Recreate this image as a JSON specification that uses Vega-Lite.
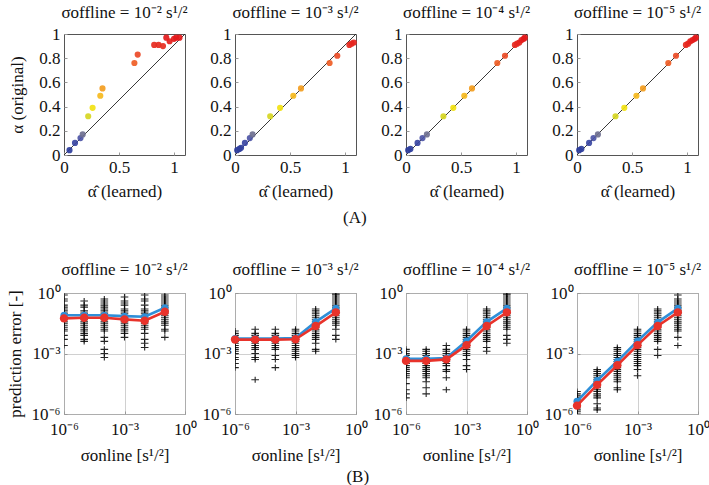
{
"$schema":"https://vega.github.io/schema/vega-lite/v6.json",
"background":"white",
"padding":{"left":5,"top":3,"right":0,"bottom":0},
"bounds":"flush",
"spacing":259,
"datasets":{
"diag":[{"l":0,"a":0},{"l":1.1,"a":1}],
"alpha":[
{"p":1,"l":0.05,"a":0.04},{"p":1,"l":0.1,"a":0.1},{"p":1,"l":0.15,"a":0.14},{"p":1,"l":0.17,"a":0.17},{"p":1,"l":0.22,"a":0.32},{"p":1,"l":0.26,"a":0.39},{"p":1,"l":0.33,"a":0.49},{"p":1,"l":0.35,"a":0.55},{"p":1,"l":0.64,"a":0.76},{"p":1,"l":0.67,"a":0.83},{"p":1,"l":0.82,"a":0.91},{"p":1,"l":0.86,"a":0.91},{"p":1,"l":0.9,"a":0.9},{"p":1,"l":0.93,"a":0.97},{"p":1,"l":0.96,"a":0.94},{"p":1,"l":1.0,"a":0.96},{"p":1,"l":1.02,"a":0.97},{"p":1,"l":1.05,"a":0.97},
{"p":2,"l":0.02,"a":0.04},{"p":2,"l":0.04,"a":0.05},{"p":2,"l":0.055,"a":0.06},{"p":2,"l":0.09,"a":0.1},{"p":2,"l":0.135,"a":0.14},{"p":2,"l":0.16,"a":0.17},{"p":2,"l":0.32,"a":0.32},{"p":2,"l":0.41,"a":0.39},{"p":2,"l":0.53,"a":0.49},{"p":2,"l":0.6,"a":0.55},{"p":2,"l":0.86,"a":0.76},{"p":2,"l":0.93,"a":0.82},{"p":2,"l":1.04,"a":0.91},{"p":2,"l":1.06,"a":0.92},{"p":2,"l":1.08,"a":0.93},
{"p":3,"l":0.02,"a":0.04},{"p":3,"l":0.04,"a":0.05},{"p":3,"l":0.105,"a":0.1},{"p":3,"l":0.15,"a":0.14},{"p":3,"l":0.19,"a":0.17},{"p":3,"l":0.34,"a":0.32},{"p":3,"l":0.43,"a":0.39},{"p":3,"l":0.53,"a":0.49},{"p":3,"l":0.6,"a":0.55},{"p":3,"l":0.83,"a":0.76},{"p":3,"l":0.9,"a":0.82},{"p":3,"l":0.99,"a":0.91},{"p":3,"l":1.01,"a":0.92},{"p":3,"l":1.03,"a":0.93},{"p":3,"l":1.05,"a":0.95},{"p":3,"l":1.07,"a":0.96},{"p":3,"l":1.08,"a":0.97},
{"p":4,"l":0.02,"a":0.04},{"p":4,"l":0.04,"a":0.05},{"p":4,"l":0.11,"a":0.1},{"p":4,"l":0.15,"a":0.14},{"p":4,"l":0.19,"a":0.17},{"p":4,"l":0.35,"a":0.32},{"p":4,"l":0.43,"a":0.39},{"p":4,"l":0.54,"a":0.49},{"p":4,"l":0.6,"a":0.55},{"p":4,"l":0.83,"a":0.76},{"p":4,"l":0.9,"a":0.82},{"p":4,"l":0.99,"a":0.91},{"p":4,"l":1.01,"a":0.92},{"p":4,"l":1.03,"a":0.94},{"p":4,"l":1.05,"a":0.95},{"p":4,"l":1.07,"a":0.96},{"p":4,"l":1.08,"a":0.97}
],
"means":[
{"p":1,"k":"blue","s":1e-6,"e":7.9e-2},{"p":1,"k":"blue","s":1e-5,"e":7.9e-2},{"p":1,"k":"blue","s":1e-4,"e":7.9e-2},{"p":1,"k":"blue","s":1e-3,"e":7.1e-2},{"p":1,"k":"blue","s":1e-2,"e":6.6e-2},{"p":1,"k":"blue","s":1e-1,"e":1.86e-1},
{"p":1,"k":"red","s":1e-6,"e":5.5e-2},{"p":1,"k":"red","s":1e-5,"e":5.9e-2},{"p":1,"k":"red","s":1e-4,"e":5.9e-2},{"p":1,"k":"red","s":1e-3,"e":4.9e-2},{"p":1,"k":"red","s":1e-2,"e":4.2e-2},{"p":1,"k":"red","s":1e-1,"e":1.17e-1},
{"p":2,"k":"blue","s":1e-6,"e":5.5e-3},{"p":2,"k":"blue","s":1e-5,"e":5.5e-3},{"p":2,"k":"blue","s":1e-4,"e":5.5e-3},{"p":2,"k":"blue","s":1e-3,"e":5.9e-3},{"p":2,"k":"blue","s":1e-2,"e":3.7e-2},{"p":2,"k":"blue","s":1e-1,"e":1.74e-1},
{"p":2,"k":"red","s":1e-6,"e":4.9e-3},{"p":2,"k":"red","s":1e-5,"e":4.9e-3},{"p":2,"k":"red","s":1e-4,"e":4.9e-3},{"p":2,"k":"red","s":1e-3,"e":5.1e-3},{"p":2,"k":"red","s":1e-2,"e":2.3e-2},{"p":2,"k":"red","s":1e-1,"e":1.1e-1},
{"p":3,"k":"blue","s":1e-6,"e":5.5e-4},{"p":3,"k":"blue","s":1e-5,"e":5.5e-4},{"p":3,"k":"blue","s":1e-4,"e":6e-4},{"p":3,"k":"blue","s":1e-3,"e":4.2e-3},{"p":3,"k":"blue","s":1e-2,"e":3.7e-2},{"p":3,"k":"blue","s":1e-1,"e":1.74e-1},
{"p":3,"k":"red","s":1e-6,"e":4.3e-4},{"p":3,"k":"red","s":1e-5,"e":4.3e-4},{"p":3,"k":"red","s":1e-4,"e":5.1e-4},{"p":3,"k":"red","s":1e-3,"e":2.6e-3},{"p":3,"k":"red","s":1e-2,"e":2.3e-2},{"p":3,"k":"red","s":1e-1,"e":1.1e-1},
{"p":4,"k":"blue","s":1e-6,"e":4.3e-6},{"p":4,"k":"blue","s":1e-5,"e":4.6e-5},{"p":4,"k":"blue","s":1e-4,"e":4.1e-4},{"p":4,"k":"blue","s":1e-3,"e":4.2e-3},{"p":4,"k":"blue","s":1e-2,"e":3.5e-2},{"p":4,"k":"blue","s":1e-1,"e":1.74e-1},
{"p":4,"k":"red","s":1e-6,"e":2.6e-6},{"p":4,"k":"red","s":1e-5,"e":2.8e-5},{"p":4,"k":"red","s":1e-4,"e":2.6e-4},{"p":4,"k":"red","s":1e-3,"e":2.6e-3},{"p":4,"k":"red","s":1e-2,"e":2.3e-2},{"p":4,"k":"red","s":1e-1,"e":1.1e-1}
],
"crosses":[
{"p":1,"s":1e-6,"e":7.9e-1},{"p":1,"s":1e-6,"e":5e-1},{"p":1,"s":1e-6,"e":4e-1},{"p":1,"s":1e-6,"e":2.5e-1},{"p":1,"s":1e-6,"e":2e-1},{"p":1,"s":1e-6,"e":1.6e-1},{"p":1,"s":1e-6,"e":1.3e-1},{"p":1,"s":1e-6,"e":1e-1},{"p":1,"s":1e-6,"e":7.9e-2},{"p":1,"s":1e-6,"e":6.3e-2},{"p":1,"s":1e-6,"e":5e-2},{"p":1,"s":1e-6,"e":4e-2},{"p":1,"s":1e-6,"e":3.2e-2},{"p":1,"s":1e-6,"e":2.5e-2},{"p":1,"s":1e-6,"e":2e-2},{"p":1,"s":1e-6,"e":1.6e-2},{"p":1,"s":1e-6,"e":1.3e-2},{"p":1,"s":1e-6,"e":7.9e-3},{"p":1,"s":1e-6,"e":5e-3},{"p":1,"s":1e-6,"e":2.5e-3},
{"p":1,"s":1e-5,"e":4e-1},{"p":1,"s":1e-5,"e":2.5e-1},{"p":1,"s":1e-5,"e":2e-1},{"p":1,"s":1e-5,"e":1.3e-1},{"p":1,"s":1e-5,"e":1e-1},{"p":1,"s":1e-5,"e":7.9e-2},{"p":1,"s":1e-5,"e":6.3e-2},{"p":1,"s":1e-5,"e":5e-2},{"p":1,"s":1e-5,"e":4e-2},{"p":1,"s":1e-5,"e":3.2e-2},{"p":1,"s":1e-5,"e":2.5e-2},{"p":1,"s":1e-5,"e":2e-2},{"p":1,"s":1e-5,"e":1.6e-2},{"p":1,"s":1e-5,"e":1.3e-2},{"p":1,"s":1e-5,"e":1e-2},{"p":1,"s":1e-5,"e":7.9e-3},{"p":1,"s":1e-5,"e":5e-3},{"p":1,"s":1e-5,"e":4e-3},
{"p":1,"s":1e-4,"e":5e-1},{"p":1,"s":1e-4,"e":4e-1},{"p":1,"s":1e-4,"e":3.2e-1},{"p":1,"s":1e-4,"e":2.5e-1},{"p":1,"s":1e-4,"e":2e-1},{"p":1,"s":1e-4,"e":1.6e-1},{"p":1,"s":1e-4,"e":1.3e-1},{"p":1,"s":1e-4,"e":1e-1},{"p":1,"s":1e-4,"e":7.9e-2},{"p":1,"s":1e-4,"e":6.3e-2},{"p":1,"s":1e-4,"e":5e-2},{"p":1,"s":1e-4,"e":4e-2},{"p":1,"s":1e-4,"e":3.2e-2},{"p":1,"s":1e-4,"e":2.5e-2},{"p":1,"s":1e-4,"e":2e-2},{"p":1,"s":1e-4,"e":1.6e-2},{"p":1,"s":1e-4,"e":1.3e-2},{"p":1,"s":1e-4,"e":6.3e-3},{"p":1,"s":1e-4,"e":4e-3},{"p":1,"s":1e-4,"e":1.6e-3},{"p":1,"s":1e-4,"e":1e-3},{"p":1,"s":1e-4,"e":6.3e-4},
{"p":1,"s":1e-3,"e":6.3e-1},{"p":1,"s":1e-3,"e":4e-1},{"p":1,"s":1e-3,"e":3.2e-1},{"p":1,"s":1e-3,"e":2.5e-1},{"p":1,"s":1e-3,"e":1.6e-1},{"p":1,"s":1e-3,"e":1.3e-1},{"p":1,"s":1e-3,"e":1e-1},{"p":1,"s":1e-3,"e":7.9e-2},{"p":1,"s":1e-3,"e":6.3e-2},{"p":1,"s":1e-3,"e":5e-2},{"p":1,"s":1e-3,"e":4e-2},{"p":1,"s":1e-3,"e":3.2e-2},{"p":1,"s":1e-3,"e":2.5e-2},{"p":1,"s":1e-3,"e":2e-2},{"p":1,"s":1e-3,"e":1.6e-2},{"p":1,"s":1e-3,"e":1.3e-2},{"p":1,"s":1e-3,"e":1e-2},{"p":1,"s":1e-3,"e":6.3e-3},
{"p":1,"s":1e-2,"e":7.9e-1},{"p":1,"s":1e-2,"e":5e-1},{"p":1,"s":1e-2,"e":4e-1},{"p":1,"s":1e-2,"e":2.5e-1},{"p":1,"s":1e-2,"e":1.6e-1},{"p":1,"s":1e-2,"e":1.3e-1},{"p":1,"s":1e-2,"e":1e-1},{"p":1,"s":1e-2,"e":7.9e-2},{"p":1,"s":1e-2,"e":6.3e-2},{"p":1,"s":1e-2,"e":5e-2},{"p":1,"s":1e-2,"e":4e-2},{"p":1,"s":1e-2,"e":3.2e-2},{"p":1,"s":1e-2,"e":2.5e-2},{"p":1,"s":1e-2,"e":2e-2},{"p":1,"s":1e-2,"e":1.6e-2},{"p":1,"s":1e-2,"e":1e-2},{"p":1,"s":1e-2,"e":5e-3},{"p":1,"s":1e-2,"e":3.2e-3},{"p":1,"s":1e-2,"e":2e-3},
{"p":1,"s":1e-1,"e":7.9e-1},{"p":1,"s":1e-1,"e":6.3e-1},{"p":1,"s":1e-1,"e":5e-1},{"p":1,"s":1e-1,"e":4e-1},{"p":1,"s":1e-1,"e":3.2e-1},{"p":1,"s":1e-1,"e":2.5e-1},{"p":1,"s":1e-1,"e":2e-1},{"p":1,"s":1e-1,"e":1.6e-1},{"p":1,"s":1e-1,"e":1.3e-1},{"p":1,"s":1e-1,"e":1e-1},{"p":1,"s":1e-1,"e":7.9e-2},{"p":1,"s":1e-1,"e":6.3e-2},{"p":1,"s":1e-1,"e":5e-2},{"p":1,"s":1e-1,"e":4e-2},{"p":1,"s":1e-1,"e":3.2e-2},{"p":1,"s":1e-1,"e":2.5e-2},{"p":1,"s":1e-1,"e":1.6e-2},{"p":1,"s":1e-1,"e":1.3e-2},{"p":1,"s":1e-1,"e":6.3e-3},
{"p":2,"s":1e-6,"e":1.3e-2},{"p":2,"s":1e-6,"e":1e-2},{"p":2,"s":1e-6,"e":7.9e-3},{"p":2,"s":1e-6,"e":6.3e-3},{"p":2,"s":1e-6,"e":5e-3},{"p":2,"s":1e-6,"e":4e-3},{"p":2,"s":1e-6,"e":3.2e-3},{"p":2,"s":1e-6,"e":2.5e-3},{"p":2,"s":1e-6,"e":2e-3},{"p":2,"s":1e-6,"e":1.6e-3},{"p":2,"s":1e-6,"e":1.3e-3},{"p":2,"s":1e-6,"e":1e-3},{"p":2,"s":1e-6,"e":6.3e-4},{"p":2,"s":1e-6,"e":5e-4},{"p":2,"s":1e-6,"e":3.2e-4},{"p":2,"s":1e-6,"e":2e-4},
{"p":2,"s":1e-5,"e":1.6e-2},{"p":2,"s":1e-5,"e":1e-2},{"p":2,"s":1e-5,"e":7.9e-3},{"p":2,"s":1e-5,"e":6.3e-3},{"p":2,"s":1e-5,"e":5e-3},{"p":2,"s":1e-5,"e":4e-3},{"p":2,"s":1e-5,"e":3.2e-3},{"p":2,"s":1e-5,"e":2.5e-3},{"p":2,"s":1e-5,"e":2e-3},{"p":2,"s":1e-5,"e":1.6e-3},{"p":2,"s":1e-5,"e":1e-3},{"p":2,"s":1e-5,"e":6.3e-4},{"p":2,"s":1e-5,"e":5e-4},{"p":2,"s":1e-5,"e":5e-5},
{"p":2,"s":1e-4,"e":1.6e-2},{"p":2,"s":1e-4,"e":1e-2},{"p":2,"s":1e-4,"e":7.9e-3},{"p":2,"s":1e-4,"e":6.3e-3},{"p":2,"s":1e-4,"e":5e-3},{"p":2,"s":1e-4,"e":4e-3},{"p":2,"s":1e-4,"e":3.2e-3},{"p":2,"s":1e-4,"e":2.5e-3},{"p":2,"s":1e-4,"e":2e-3},{"p":2,"s":1e-4,"e":1.6e-3},{"p":2,"s":1e-4,"e":7.9e-4},{"p":2,"s":1e-4,"e":5e-4},{"p":2,"s":1e-4,"e":2e-4},
{"p":2,"s":1e-3,"e":1.6e-2},{"p":2,"s":1e-3,"e":1.3e-2},{"p":2,"s":1e-3,"e":1e-2},{"p":2,"s":1e-3,"e":7.9e-3},{"p":2,"s":1e-3,"e":6.3e-3},{"p":2,"s":1e-3,"e":5e-3},{"p":2,"s":1e-3,"e":4e-3},{"p":2,"s":1e-3,"e":3.2e-3},{"p":2,"s":1e-3,"e":2.5e-3},{"p":2,"s":1e-3,"e":2e-3},{"p":2,"s":1e-3,"e":1.6e-3},{"p":2,"s":1e-3,"e":1.3e-3},{"p":2,"s":1e-3,"e":1e-3},{"p":2,"s":1e-3,"e":7.9e-4},{"p":2,"s":1e-3,"e":6.3e-4},
{"p":2,"s":1e-2,"e":1.6e-1},{"p":2,"s":1e-2,"e":1.3e-1},{"p":2,"s":1e-2,"e":1e-1},{"p":2,"s":1e-2,"e":7.9e-2},{"p":2,"s":1e-2,"e":6.3e-2},{"p":2,"s":1e-2,"e":5e-2},{"p":2,"s":1e-2,"e":4e-2},{"p":2,"s":1e-2,"e":3.2e-2},{"p":2,"s":1e-2,"e":2.5e-2},{"p":2,"s":1e-2,"e":2e-2},{"p":2,"s":1e-2,"e":1.6e-2},{"p":2,"s":1e-2,"e":1.3e-2},{"p":2,"s":1e-2,"e":1e-2},{"p":2,"s":1e-2,"e":7.9e-3},{"p":2,"s":1e-2,"e":6.3e-3},{"p":2,"s":1e-2,"e":5e-3},{"p":2,"s":1e-2,"e":3.2e-3},{"p":2,"s":1e-2,"e":1.6e-3},{"p":2,"s":1e-2,"e":1.3e-3},
{"p":2,"s":1e-1,"e":8.9e-1},{"p":2,"s":1e-1,"e":7.9e-1},{"p":2,"s":1e-1,"e":6.3e-1},{"p":2,"s":1e-1,"e":5e-1},{"p":2,"s":1e-1,"e":4e-1},{"p":2,"s":1e-1,"e":3.2e-1},{"p":2,"s":1e-1,"e":2.5e-1},{"p":2,"s":1e-1,"e":2e-1},{"p":2,"s":1e-1,"e":1.6e-1},{"p":2,"s":1e-1,"e":1.3e-1},{"p":2,"s":1e-1,"e":1e-1},{"p":2,"s":1e-1,"e":7.9e-2},{"p":2,"s":1e-1,"e":6.3e-2},{"p":2,"s":1e-1,"e":5e-2},{"p":2,"s":1e-1,"e":4e-2},{"p":2,"s":1e-1,"e":3.2e-2},{"p":2,"s":1e-1,"e":2.5e-2},{"p":2,"s":1e-1,"e":1.6e-2},{"p":2,"s":1e-1,"e":7.9e-3},{"p":2,"s":1e-1,"e":5e-3},
{"p":3,"s":1e-6,"e":1.6e-3},{"p":3,"s":1e-6,"e":1.3e-3},{"p":3,"s":1e-6,"e":1e-3},{"p":3,"s":1e-6,"e":7.9e-4},{"p":3,"s":1e-6,"e":6.3e-4},{"p":3,"s":1e-6,"e":5e-4},{"p":3,"s":1e-6,"e":4e-4},{"p":3,"s":1e-6,"e":3.2e-4},{"p":3,"s":1e-6,"e":2.5e-4},{"p":3,"s":1e-6,"e":2e-4},{"p":3,"s":1e-6,"e":1.6e-4},{"p":3,"s":1e-6,"e":1.3e-4},{"p":3,"s":1e-6,"e":1e-4},{"p":3,"s":1e-6,"e":7.9e-5},{"p":3,"s":1e-6,"e":6.3e-5},{"p":3,"s":1e-6,"e":3.2e-5},{"p":3,"s":1e-6,"e":1.6e-5},{"p":3,"s":1e-6,"e":1e-5},{"p":3,"s":1e-6,"e":6.3e-6},
{"p":3,"s":1e-5,"e":1.6e-3},{"p":3,"s":1e-5,"e":1.3e-3},{"p":3,"s":1e-5,"e":1e-3},{"p":3,"s":1e-5,"e":7.9e-4},{"p":3,"s":1e-5,"e":6.3e-4},{"p":3,"s":1e-5,"e":5e-4},{"p":3,"s":1e-5,"e":4e-4},{"p":3,"s":1e-5,"e":3.2e-4},{"p":3,"s":1e-5,"e":2.5e-4},{"p":3,"s":1e-5,"e":2e-4},{"p":3,"s":1e-5,"e":1.6e-4},{"p":3,"s":1e-5,"e":1.3e-4},{"p":3,"s":1e-5,"e":1e-4},{"p":3,"s":1e-5,"e":7.9e-5},{"p":3,"s":1e-5,"e":6.3e-5},{"p":3,"s":1e-5,"e":4e-5},{"p":3,"s":1e-5,"e":2e-5},{"p":3,"s":1e-5,"e":1e-5},
{"p":3,"s":1e-4,"e":2.5e-3},{"p":3,"s":1e-4,"e":1.6e-3},{"p":3,"s":1e-4,"e":1.3e-3},{"p":3,"s":1e-4,"e":1e-3},{"p":3,"s":1e-4,"e":7.9e-4},{"p":3,"s":1e-4,"e":6.3e-4},{"p":3,"s":1e-4,"e":5e-4},{"p":3,"s":1e-4,"e":4e-4},{"p":3,"s":1e-4,"e":3.2e-4},{"p":3,"s":1e-4,"e":2.5e-4},{"p":3,"s":1e-4,"e":1.6e-4},{"p":3,"s":1e-4,"e":1.3e-4},{"p":3,"s":1e-4,"e":6.3e-5},{"p":3,"s":1e-4,"e":1.6e-5},
{"p":3,"s":1e-3,"e":1.6e-2},{"p":3,"s":1e-3,"e":1.3e-2},{"p":3,"s":1e-3,"e":1e-2},{"p":3,"s":1e-3,"e":7.9e-3},{"p":3,"s":1e-3,"e":6.3e-3},{"p":3,"s":1e-3,"e":5e-3},{"p":3,"s":1e-3,"e":4e-3},{"p":3,"s":1e-3,"e":3.2e-3},{"p":3,"s":1e-3,"e":2.5e-3},{"p":3,"s":1e-3,"e":2e-3},{"p":3,"s":1e-3,"e":1.6e-3},{"p":3,"s":1e-3,"e":1.3e-3},{"p":3,"s":1e-3,"e":1e-3},{"p":3,"s":1e-3,"e":7.9e-4},{"p":3,"s":1e-3,"e":5e-4},{"p":3,"s":1e-3,"e":2.5e-4},{"p":3,"s":1e-3,"e":1.6e-4},
{"p":3,"s":1e-2,"e":1.6e-1},{"p":3,"s":1e-2,"e":1.3e-1},{"p":3,"s":1e-2,"e":1e-1},{"p":3,"s":1e-2,"e":7.9e-2},{"p":3,"s":1e-2,"e":6.3e-2},{"p":3,"s":1e-2,"e":5e-2},{"p":3,"s":1e-2,"e":4e-2},{"p":3,"s":1e-2,"e":3.2e-2},{"p":3,"s":1e-2,"e":2.5e-2},{"p":3,"s":1e-2,"e":2e-2},{"p":3,"s":1e-2,"e":1.6e-2},{"p":3,"s":1e-2,"e":1.3e-2},{"p":3,"s":1e-2,"e":1e-2},{"p":3,"s":1e-2,"e":7.9e-3},{"p":3,"s":1e-2,"e":6.3e-3},{"p":3,"s":1e-2,"e":5e-3},{"p":3,"s":1e-2,"e":4e-3},{"p":3,"s":1e-2,"e":2e-3},{"p":3,"s":1e-2,"e":1.3e-3},
{"p":3,"s":1e-1,"e":8.9e-1},{"p":3,"s":1e-1,"e":7.9e-1},{"p":3,"s":1e-1,"e":6.3e-1},{"p":3,"s":1e-1,"e":5e-1},{"p":3,"s":1e-1,"e":4e-1},{"p":3,"s":1e-1,"e":3.2e-1},{"p":3,"s":1e-1,"e":2.5e-1},{"p":3,"s":1e-1,"e":2e-1},{"p":3,"s":1e-1,"e":1.6e-1},{"p":3,"s":1e-1,"e":1.3e-1},{"p":3,"s":1e-1,"e":1e-1},{"p":3,"s":1e-1,"e":7.9e-2},{"p":3,"s":1e-1,"e":6.3e-2},{"p":3,"s":1e-1,"e":5e-2},{"p":3,"s":1e-1,"e":4e-2},{"p":3,"s":1e-1,"e":3.2e-2},{"p":3,"s":1e-1,"e":2.5e-2},{"p":3,"s":1e-1,"e":2e-2},{"p":3,"s":1e-1,"e":1.6e-2},{"p":3,"s":1e-1,"e":7.9e-3},{"p":3,"s":1e-1,"e":5e-3},{"p":3,"s":1e-1,"e":3.2e-3},
{"p":4,"s":1e-6,"e":1.3e-5},{"p":4,"s":1e-6,"e":1e-5},{"p":4,"s":1e-6,"e":7.9e-6},{"p":4,"s":1e-6,"e":6.3e-6},{"p":4,"s":1e-6,"e":5e-6},{"p":4,"s":1e-6,"e":4e-6},{"p":4,"s":1e-6,"e":3.2e-6},{"p":4,"s":1e-6,"e":2.5e-6},{"p":4,"s":1e-6,"e":2e-6},{"p":4,"s":1e-6,"e":1.6e-6},{"p":4,"s":1e-6,"e":1.3e-6},{"p":4,"s":1e-6,"e":1e-6},
{"p":4,"s":1e-5,"e":1.6e-4},{"p":4,"s":1e-5,"e":1.3e-4},{"p":4,"s":1e-5,"e":1e-4},{"p":4,"s":1e-5,"e":7.9e-5},{"p":4,"s":1e-5,"e":6.3e-5},{"p":4,"s":1e-5,"e":5e-5},{"p":4,"s":1e-5,"e":4e-5},{"p":4,"s":1e-5,"e":3.2e-5},{"p":4,"s":1e-5,"e":2.5e-5},{"p":4,"s":1e-5,"e":2e-5},{"p":4,"s":1e-5,"e":1.6e-5},{"p":4,"s":1e-5,"e":1.3e-5},{"p":4,"s":1e-5,"e":1e-5},{"p":4,"s":1e-5,"e":7.9e-6},{"p":4,"s":1e-5,"e":6.3e-6},{"p":4,"s":1e-5,"e":3.2e-6},{"p":4,"s":1e-5,"e":2e-6},{"p":4,"s":1e-5,"e":1.6e-6},
{"p":4,"s":1e-4,"e":2e-3},{"p":4,"s":1e-4,"e":1.6e-3},{"p":4,"s":1e-4,"e":1.3e-3},{"p":4,"s":1e-4,"e":1e-3},{"p":4,"s":1e-4,"e":7.9e-4},{"p":4,"s":1e-4,"e":6.3e-4},{"p":4,"s":1e-4,"e":5e-4},{"p":4,"s":1e-4,"e":4e-4},{"p":4,"s":1e-4,"e":3.2e-4},{"p":4,"s":1e-4,"e":2.5e-4},{"p":4,"s":1e-4,"e":2e-4},{"p":4,"s":1e-4,"e":1.6e-4},{"p":4,"s":1e-4,"e":1.3e-4},{"p":4,"s":1e-4,"e":1e-4},{"p":4,"s":1e-4,"e":7.9e-5},{"p":4,"s":1e-4,"e":6.3e-5},{"p":4,"s":1e-4,"e":5e-5},{"p":4,"s":1e-4,"e":4e-5},{"p":4,"s":1e-4,"e":2e-5},{"p":4,"s":1e-4,"e":1.6e-5},
{"p":4,"s":1e-3,"e":1.6e-2},{"p":4,"s":1e-3,"e":1.3e-2},{"p":4,"s":1e-3,"e":1e-2},{"p":4,"s":1e-3,"e":7.9e-3},{"p":4,"s":1e-3,"e":6.3e-3},{"p":4,"s":1e-3,"e":5e-3},{"p":4,"s":1e-3,"e":4e-3},{"p":4,"s":1e-3,"e":3.2e-3},{"p":4,"s":1e-3,"e":2.5e-3},{"p":4,"s":1e-3,"e":2e-3},{"p":4,"s":1e-3,"e":1.6e-3},{"p":4,"s":1e-3,"e":1.3e-3},{"p":4,"s":1e-3,"e":1e-3},{"p":4,"s":1e-3,"e":7.9e-4},{"p":4,"s":1e-3,"e":6.3e-4},{"p":4,"s":1e-3,"e":5e-4},{"p":4,"s":1e-3,"e":4e-4},{"p":4,"s":1e-3,"e":3.2e-4},{"p":4,"s":1e-3,"e":2.5e-4},{"p":4,"s":1e-3,"e":1.6e-4},{"p":4,"s":1e-3,"e":7.9e-5},
{"p":4,"s":1e-2,"e":1.6e-1},{"p":4,"s":1e-2,"e":1.3e-1},{"p":4,"s":1e-2,"e":1e-1},{"p":4,"s":1e-2,"e":7.9e-2},{"p":4,"s":1e-2,"e":6.3e-2},{"p":4,"s":1e-2,"e":5e-2},{"p":4,"s":1e-2,"e":4e-2},{"p":4,"s":1e-2,"e":3.2e-2},{"p":4,"s":1e-2,"e":2.5e-2},{"p":4,"s":1e-2,"e":2e-2},{"p":4,"s":1e-2,"e":1.6e-2},{"p":4,"s":1e-2,"e":1.3e-2},{"p":4,"s":1e-2,"e":1e-2},{"p":4,"s":1e-2,"e":7.9e-3},{"p":4,"s":1e-2,"e":6.3e-3},{"p":4,"s":1e-2,"e":5e-3},{"p":4,"s":1e-2,"e":4e-3},{"p":4,"s":1e-2,"e":1.6e-3},{"p":4,"s":1e-2,"e":7.9e-4},
{"p":4,"s":1e-1,"e":7.9e-1},{"p":4,"s":1e-1,"e":5e-1},{"p":4,"s":1e-1,"e":4e-1},{"p":4,"s":1e-1,"e":3.2e-1},{"p":4,"s":1e-1,"e":2.5e-1},{"p":4,"s":1e-1,"e":2e-1},{"p":4,"s":1e-1,"e":1.6e-1},{"p":4,"s":1e-1,"e":1.3e-1},{"p":4,"s":1e-1,"e":1e-1},{"p":4,"s":1e-1,"e":7.9e-2},{"p":4,"s":1e-1,"e":6.3e-2},{"p":4,"s":1e-1,"e":5e-2},{"p":4,"s":1e-1,"e":4e-2},{"p":4,"s":1e-1,"e":3.2e-2},{"p":4,"s":1e-1,"e":2.5e-2},{"p":4,"s":1e-1,"e":2e-2},{"p":4,"s":1e-1,"e":1.6e-2},{"p":4,"s":1e-1,"e":1.3e-2},{"p":4,"s":1e-1,"e":6.3e-3},{"p":4,"s":1e-1,"e":2.5e-3}
]
},
"vconcat":[
{"bounds":"flush","spacing":50,
 "title":{"text":"(A)","orient":"bottom","anchor":"middle","offset":10},
 "hconcat":[
 {"width":121,"height":121,"title":{"text":"σoffline = 10⁻² s¹/²","anchor":"middle","offset":3},
  "encoding":{"x":{"field":"l","type":"quantitative","scale":{"domain":[0,1.1],"nice":false},"axis":{"values":[0,0.5,1],"format":"~g","title":"α̂ (learned)","labelOverlap":false}},
              "y":{"field":"a","type":"quantitative","scale":{"domain":[0,1],"nice":false},"axis":{"values":[0,0.2,0.4,0.6,0.8,1],"format":"~g","title":"α (original)","labelOverlap":false,"titlePadding":12}}},
  "layer":[
   {"data":{"name":"diag"},"mark":{"type":"line","color":"#222","strokeWidth":0.9}},
   {"data":{"name":"alpha"},"transform":[{"filter":"datum.p==1"}],"mark":{"type":"circle","size":38,"opacity":0.92},
    "encoding":{"color":{"field":"a","type":"quantitative","legend":null,"scale":{"domain":[0.04,0.1,0.14,0.17,0.32,0.39,0.49,0.55,0.76,0.83,0.91,0.97],"range":["#2d3d9c","#3a47a3","#4d55a6","#6f7090","#d6d622","#f2e212","#f6ba1e","#f39d1f","#ef5d25","#eb4927","#e62a20","#e3191b"]}}}}
  ]},
 {"width":121,"height":121,"title":{"text":"σoffline = 10⁻³ s¹/²","anchor":"middle","offset":3},
  "encoding":{"x":{"field":"l","type":"quantitative","scale":{"domain":[0,1.1],"nice":false},"axis":{"values":[0,0.5,1],"format":"~g","title":"α̂ (learned)","labelOverlap":false}},
              "y":{"field":"a","type":"quantitative","scale":{"domain":[0,1],"nice":false},"axis":{"values":[0,0.2,0.4,0.6,0.8,1],"format":"~g","title":null,"labelOverlap":false}}},
  "layer":[
   {"data":{"name":"diag"},"mark":{"type":"line","color":"#222","strokeWidth":0.9}},
   {"data":{"name":"alpha"},"transform":[{"filter":"datum.p==2"}],"mark":{"type":"circle","size":38,"opacity":0.92},
    "encoding":{"color":{"field":"a","type":"quantitative","legend":null,"scale":{"domain":[0.04,0.1,0.14,0.17,0.32,0.39,0.49,0.55,0.76,0.83,0.91,0.97],"range":["#2d3d9c","#3a47a3","#4d55a6","#6f7090","#d6d622","#f2e212","#f6ba1e","#f39d1f","#ef5d25","#eb4927","#e62a20","#e3191b"]}}}}
  ]},
 {"width":121,"height":121,"title":{"text":"σoffline = 10⁻⁴ s¹/²","anchor":"middle","offset":3},
  "encoding":{"x":{"field":"l","type":"quantitative","scale":{"domain":[0,1.1],"nice":false},"axis":{"values":[0,0.5,1],"format":"~g","title":"α̂ (learned)","labelOverlap":false}},
              "y":{"field":"a","type":"quantitative","scale":{"domain":[0,1],"nice":false},"axis":{"values":[0,0.2,0.4,0.6,0.8,1],"format":"~g","title":null,"labelOverlap":false}}},
  "layer":[
   {"data":{"name":"diag"},"mark":{"type":"line","color":"#222","strokeWidth":0.9}},
   {"data":{"name":"alpha"},"transform":[{"filter":"datum.p==3"}],"mark":{"type":"circle","size":38,"opacity":0.92},
    "encoding":{"color":{"field":"a","type":"quantitative","legend":null,"scale":{"domain":[0.04,0.1,0.14,0.17,0.32,0.39,0.49,0.55,0.76,0.83,0.91,0.97],"range":["#2d3d9c","#3a47a3","#4d55a6","#6f7090","#d6d622","#f2e212","#f6ba1e","#f39d1f","#ef5d25","#eb4927","#e62a20","#e3191b"]}}}}
  ]},
 {"width":121,"height":121,"title":{"text":"σoffline = 10⁻⁵ s¹/²","anchor":"middle","offset":3},
  "encoding":{"x":{"field":"l","type":"quantitative","scale":{"domain":[0,1.1],"nice":false},"axis":{"values":[0,0.5,1],"format":"~g","title":"α̂ (learned)","labelOverlap":false}},
              "y":{"field":"a","type":"quantitative","scale":{"domain":[0,1],"nice":false},"axis":{"values":[0,0.2,0.4,0.6,0.8,1],"format":"~g","title":null,"labelOverlap":false}}},
  "layer":[
   {"data":{"name":"diag"},"mark":{"type":"line","color":"#222","strokeWidth":0.9}},
   {"data":{"name":"alpha"},"transform":[{"filter":"datum.p==4"}],"mark":{"type":"circle","size":38,"opacity":0.92},
    "encoding":{"color":{"field":"a","type":"quantitative","legend":null,"scale":{"domain":[0.04,0.1,0.14,0.17,0.32,0.39,0.49,0.55,0.76,0.83,0.91,0.97],"range":["#2d3d9c","#3a47a3","#4d55a6","#6f7090","#d6d622","#f2e212","#f6ba1e","#f39d1f","#ef5d25","#eb4927","#e62a20","#e3191b"]}}}}
  ]}
 ]},
{"bounds":"flush","spacing":50,
 "title":{"text":"(B)","orient":"bottom","anchor":"middle","offset":5},
 "hconcat":[
 {"width":121,"height":121,"title":{"text":"σoffline = 10⁻² s¹/²","anchor":"middle","offset":5},
  "encoding":{"x":{"field":"s","type":"quantitative","scale":{"type":"log","domain":[1e-6,1],"nice":false},"axis":{"values":[1e-6,1e-3,1],"labelExpr":"datum.value > 0.1 ? '10⁰' : datum.value > 1e-4 ? '10⁻³' : '10⁻⁶'","title":"σonline [s¹/²]","grid":true,"labelOverlap":false,"labelPadding":10,"titlePadding":10}},
              "y":{"field":"e","type":"quantitative","scale":{"type":"log","domain":[1e-6,1],"nice":false},"axis":{"values":[1e-6,1e-3,1],"labelExpr":"datum.value > 0.1 ? '10⁰' : datum.value > 1e-4 ? '10⁻³' : '10⁻⁶'","title":"prediction error [-]","grid":true,"labelOverlap":false,"titlePadding":7}}},
  "layer":[
   {"data":{"name":"crosses"},"transform":[{"filter":"datum.p==1"}],"mark":{"type":"point","shape":"M-1,0H1M0,-0.8V0.8","filled":false,"color":"#000","strokeWidth":1.1,"size":58,"opacity":0.85,"clip":true}},
   {"data":{"name":"means"},"transform":[{"filter":"datum.p==1 && datum.k=='blue'"}],"mark":{"type":"line","color":"#2f8fd8","strokeWidth":2.6,"point":{"filled":true,"size":50,"color":"#2f8fd8"}}},
   {"data":{"name":"means"},"transform":[{"filter":"datum.p==1 && datum.k=='red'"}],"mark":{"type":"line","color":"#e8332b","strokeWidth":2.6,"point":{"filled":true,"size":70,"color":"#e8332b"}}}
  ]},
 {"width":121,"height":121,"title":{"text":"σoffline = 10⁻³ s¹/²","anchor":"middle","offset":5},
  "encoding":{"x":{"field":"s","type":"quantitative","scale":{"type":"log","domain":[1e-6,1],"nice":false},"axis":{"values":[1e-6,1e-3,1],"labelExpr":"datum.value > 0.1 ? '10⁰' : datum.value > 1e-4 ? '10⁻³' : '10⁻⁶'","title":"σonline [s¹/²]","grid":true,"labelOverlap":false,"labelPadding":10,"titlePadding":10}},
              "y":{"field":"e","type":"quantitative","scale":{"type":"log","domain":[1e-6,1],"nice":false},"axis":{"values":[1e-6,1e-3,1],"labelExpr":"datum.value > 0.1 ? '10⁰' : datum.value > 1e-4 ? '10⁻³' : '10⁻⁶'","title":null,"grid":true,"labelOverlap":false}}},
  "layer":[
   {"data":{"name":"crosses"},"transform":[{"filter":"datum.p==2"}],"mark":{"type":"point","shape":"M-1,0H1M0,-0.8V0.8","filled":false,"color":"#000","strokeWidth":1.1,"size":58,"opacity":0.85,"clip":true}},
   {"data":{"name":"means"},"transform":[{"filter":"datum.p==2 && datum.k=='blue'"}],"mark":{"type":"line","color":"#2f8fd8","strokeWidth":2.6,"point":{"filled":true,"size":50,"color":"#2f8fd8"}}},
   {"data":{"name":"means"},"transform":[{"filter":"datum.p==2 && datum.k=='red'"}],"mark":{"type":"line","color":"#e8332b","strokeWidth":2.6,"point":{"filled":true,"size":70,"color":"#e8332b"}}}
  ]},
 {"width":121,"height":121,"title":{"text":"σoffline = 10⁻⁴ s¹/²","anchor":"middle","offset":5},
  "encoding":{"x":{"field":"s","type":"quantitative","scale":{"type":"log","domain":[1e-6,1],"nice":false},"axis":{"values":[1e-6,1e-3,1],"labelExpr":"datum.value > 0.1 ? '10⁰' : datum.value > 1e-4 ? '10⁻³' : '10⁻⁶'","title":"σonline [s¹/²]","grid":true,"labelOverlap":false,"labelPadding":10,"titlePadding":10}},
              "y":{"field":"e","type":"quantitative","scale":{"type":"log","domain":[1e-6,1],"nice":false},"axis":{"values":[1e-6,1e-3,1],"labelExpr":"datum.value > 0.1 ? '10⁰' : datum.value > 1e-4 ? '10⁻³' : '10⁻⁶'","title":null,"grid":true,"labelOverlap":false}}},
  "layer":[
   {"data":{"name":"crosses"},"transform":[{"filter":"datum.p==3"}],"mark":{"type":"point","shape":"M-1,0H1M0,-0.8V0.8","filled":false,"color":"#000","strokeWidth":1.1,"size":58,"opacity":0.85,"clip":true}},
   {"data":{"name":"means"},"transform":[{"filter":"datum.p==3 && datum.k=='blue'"}],"mark":{"type":"line","color":"#2f8fd8","strokeWidth":2.6,"point":{"filled":true,"size":50,"color":"#2f8fd8"}}},
   {"data":{"name":"means"},"transform":[{"filter":"datum.p==3 && datum.k=='red'"}],"mark":{"type":"line","color":"#e8332b","strokeWidth":2.6,"point":{"filled":true,"size":70,"color":"#e8332b"}}}
  ]},
 {"width":121,"height":121,"title":{"text":"σoffline = 10⁻⁵ s¹/²","anchor":"middle","offset":5},
  "encoding":{"x":{"field":"s","type":"quantitative","scale":{"type":"log","domain":[1e-6,1],"nice":false},"axis":{"values":[1e-6,1e-3,1],"labelExpr":"datum.value > 0.1 ? '10⁰' : datum.value > 1e-4 ? '10⁻³' : '10⁻⁶'","title":"σonline [s¹/²]","grid":true,"labelOverlap":false,"labelPadding":10,"titlePadding":10}},
              "y":{"field":"e","type":"quantitative","scale":{"type":"log","domain":[1e-6,1],"nice":false},"axis":{"values":[1e-6,1e-3,1],"labelExpr":"datum.value > 0.1 ? '10⁰' : datum.value > 1e-4 ? '10⁻³' : '10⁻⁶'","title":null,"grid":true,"labelOverlap":false}}},
  "layer":[
   {"data":{"name":"crosses"},"transform":[{"filter":"datum.p==4"}],"mark":{"type":"point","shape":"M-1,0H1M0,-0.8V0.8","filled":false,"color":"#000","strokeWidth":1.1,"size":58,"opacity":0.85,"clip":true}},
   {"data":{"name":"means"},"transform":[{"filter":"datum.p==4 && datum.k=='blue'"}],"mark":{"type":"line","color":"#2f8fd8","strokeWidth":2.6,"point":{"filled":true,"size":50,"color":"#2f8fd8"}}},
   {"data":{"name":"means"},"transform":[{"filter":"datum.p==4 && datum.k=='red'"}],"mark":{"type":"line","color":"#e8332b","strokeWidth":2.6,"point":{"filled":true,"size":70,"color":"#e8332b"}}}
  ]}
 ]}
],
"config":{
 "font":"Liberation Serif",
 "view":{"stroke":"#555","strokeWidth":1},
 "axis":{"labelFont":"Liberation Serif","labelFontSize":17,"titleFont":"Liberation Serif","titleFontSize":17,"titleFontWeight":"normal","labelColor":"#111","titleColor":"#111","domain":false,"tickColor":"#999","tickSize":-3,"labelPadding":7,"grid":false,"gridColor":"#c4c4c4","gridWidth":0.8,"labelFlush":false,"labelOverlap":false,"titlePadding":8},
 "title":{"font":"Liberation Serif","fontSize":17,"fontWeight":"normal","color":"#111"}
}
}
